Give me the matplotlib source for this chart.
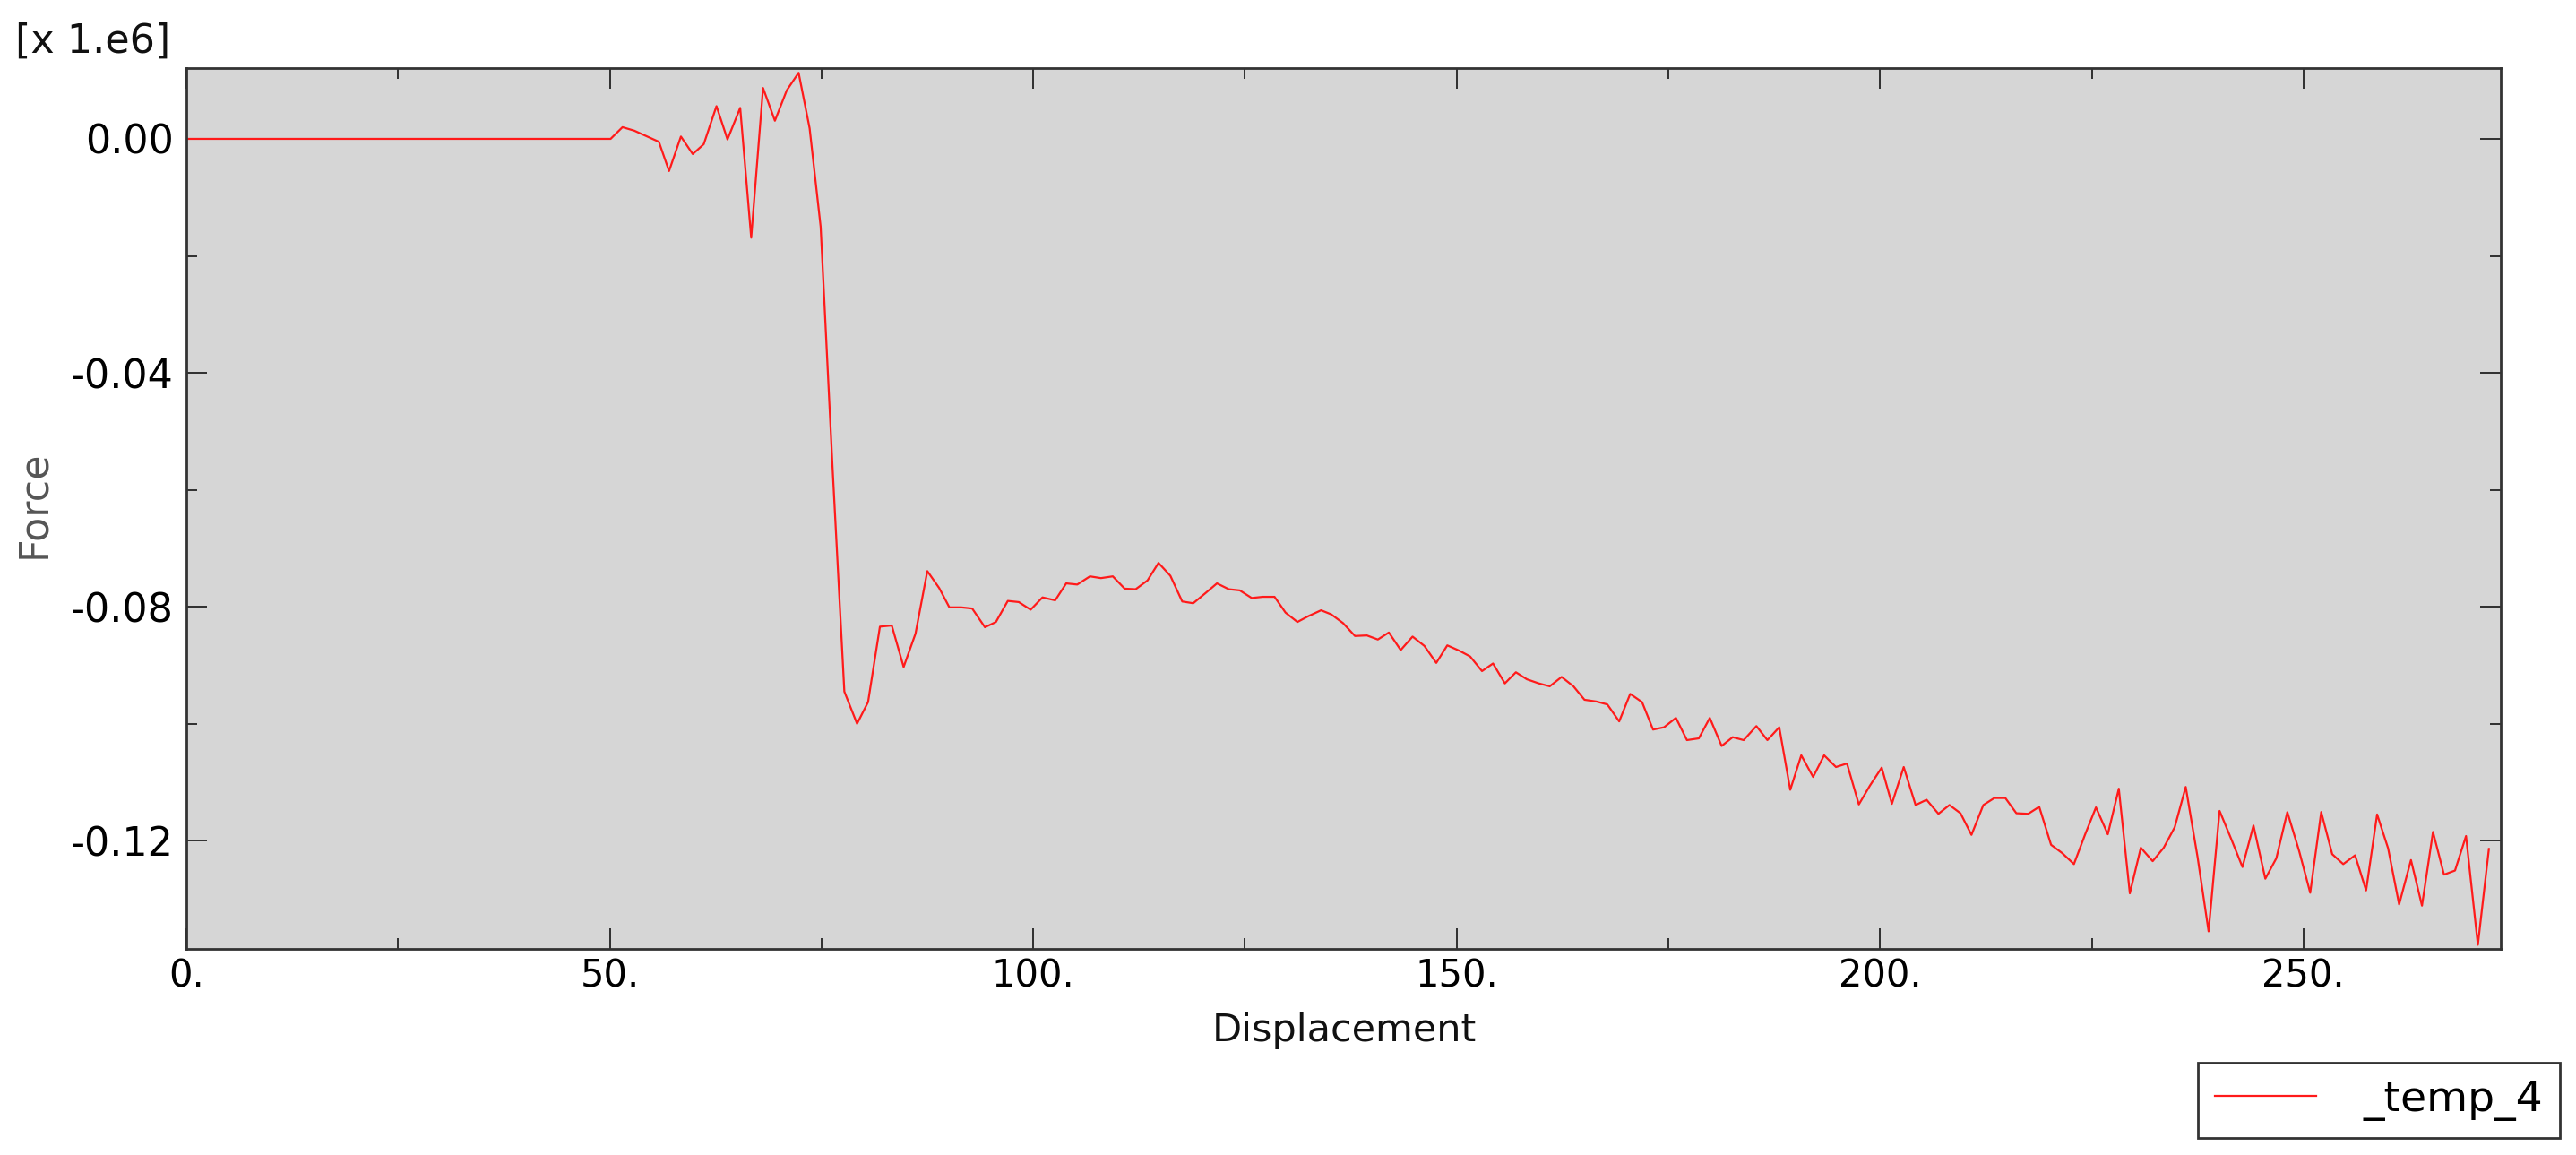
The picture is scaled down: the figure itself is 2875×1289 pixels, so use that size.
import matplotlib
matplotlib.use('agg')
from matplotlib import pyplot as plt
from matplotlib.ticker import MultipleLocator, FuncFormatter

plt.rcParams['font.family'] = ['DejaVu Sans']
plt.rcParams['axes.unicode_minus'] = False

# displacement and force (force in units of 1e6)
displacement = [0.0, 50.1, 51.5, 52.9, 55.8, 57.0, 58.4, 59.8, 61.1, 62.6,
                63.9, 65.4, 66.7, 68.1, 69.5, 70.9, 72.3, 73.6, 74.9, 76.3,
                77.7, 79.2, 80.5, 81.9, 83.3, 84.7, 86.1, 87.5, 88.9, 90.1,
                91.5, 92.8, 94.3, 95.6, 97.0, 98.3, 99.7, 101.1, 102.6, 103.9,
                105.2, 106.7, 108.0, 109.4, 110.8, 112.1, 113.5, 114.8, 116.2, 117.6,
                118.9, 120.4, 121.7, 123.1, 124.4, 125.8, 127.1, 128.5, 129.8, 131.2,
                132.5, 134.0, 135.2, 136.6, 138.0, 139.4, 140.7, 142.0, 143.4, 144.8,
                146.2, 147.6, 148.9, 150.3, 151.6, 153.0, 154.3, 155.7, 157.0, 158.3,
                159.7, 161.0, 162.4, 163.8, 165.1, 166.5, 167.8, 169.2, 170.5, 171.9,
                173.2, 174.5, 175.9, 177.2, 178.6, 179.9, 181.3, 182.6, 183.9, 185.4,
                186.7, 188.1, 189.4, 190.7, 192.1, 193.4, 194.8, 196.1, 197.5, 198.8,
                200.2, 201.4, 202.8, 204.2, 205.5, 206.9, 208.2, 209.5, 210.8, 212.2,
                213.5, 214.8, 216.1, 217.5, 218.8, 220.2, 221.5, 222.9, 224.2, 225.5,
                226.9, 228.2, 229.5, 230.8, 232.2, 233.5, 234.8, 236.1, 237.5, 238.8,
                240.1, 241.5, 242.8, 244.1, 245.5, 246.8, 248.1, 249.5, 250.8, 252.1,
                253.4, 254.7, 256.1, 257.4, 258.7, 260.0, 261.3, 262.7, 264.0, 265.3,
                266.6, 267.9, 269.2, 270.6, 271.9]

force = [0.0, 0.0, 0.0020, 0.0014, -0.0005, -0.0055, 0.0004, -0.0026, -0.0009, 0.0056,
         -0.0001, 0.0053, -0.0169, 0.0087, 0.0031, 0.0083, 0.0113, 0.0018, -0.0150, -0.0560,
         -0.0945, -0.1000, -0.0963, -0.0834, -0.0832, -0.0903, -0.0846, -0.0739, -0.0768, -0.0801,
         -0.0801, -0.0803, -0.0835, -0.0826, -0.0790, -0.0792, -0.0805, -0.0784, -0.0789, -0.0760,
         -0.0762, -0.0748, -0.0751, -0.0748, -0.0769, -0.0770, -0.0755, -0.0725, -0.0747, -0.0791,
         -0.0794, -0.0776, -0.0760, -0.0770, -0.0772, -0.0785, -0.0783, -0.0783, -0.0810, -0.0826,
         -0.0816, -0.0806, -0.0813, -0.0828, -0.0850, -0.0849, -0.0856, -0.0844, -0.0874, -0.0851,
         -0.0867, -0.0896, -0.0866, -0.0875, -0.0885, -0.0910, -0.0897, -0.0931, -0.0912, -0.0924,
         -0.0931, -0.0936, -0.0920, -0.0936, -0.0959, -0.0962, -0.0967, -0.0996, -0.0949, -0.0963,
         -0.1010, -0.1006, -0.0990, -0.1028, -0.1025, -0.0990, -0.1038, -0.1023, -0.1028, -0.1004,
         -0.1028, -0.1006, -0.1113, -0.1054, -0.1091, -0.1054, -0.1074, -0.1068, -0.1138, -0.1106,
         -0.1075, -0.1137, -0.1074, -0.1139, -0.1130, -0.1154, -0.1139, -0.1153, -0.1190, -0.1139,
         -0.1127, -0.1127, -0.1153, -0.1154, -0.1142, -0.1207, -0.1221, -0.1240, -0.1190, -0.1143,
         -0.1189, -0.1111, -0.1290, -0.1212, -0.1235, -0.1212, -0.1177, -0.1108, -0.1228, -0.1355,
         -0.1149, -0.1198, -0.1245, -0.1174, -0.1265, -0.1230, -0.1151, -0.1218, -0.1289, -0.1151,
         -0.1223, -0.1240, -0.1225, -0.1285, -0.1155, -0.1213, -0.1309, -0.1233, -0.1311, -0.1185,
         -0.1258, -0.1251, -0.1192, -0.1378, -0.1214]

series_name = '_temp_4'

W, H = 2875, 1289
fig = plt.figure(figsize=(W / 100, H / 100), dpi=100)
ax = fig.add_axes([208 / W, 1 - 1059 / H, (2791 - 208) / W, (1059 - 76) / H])
ax.set_facecolor('#d6d6d6')

line, = ax.plot(displacement, force, color='#ff1a1a', lw=1.6, label=series_name)

ax.set_xlim(0, 273.3)
ax.set_ylim(-0.1385, 0.0121)

ax.xaxis.set_major_locator(MultipleLocator(50))
ax.xaxis.set_minor_locator(MultipleLocator(25))
ax.yaxis.set_major_locator(MultipleLocator(0.04))
ax.yaxis.set_minor_locator(MultipleLocator(0.02))
ax.xaxis.set_major_formatter(FuncFormatter(lambda v, p: '%d.' % round(v)))
ax.yaxis.set_major_formatter(FuncFormatter(lambda v, p: '%.2f' % (0 if abs(v) < 1e-9 else v)))

ax.tick_params(which='both', direction='in', top=True, right=True, color='#222222', width=1.3)
ax.tick_params(which='major', length=16.5)
ax.tick_params(which='minor', length=8.5)
ax.tick_params(axis='x', which='major', labelsize=30, pad=7)
ax.tick_params(axis='y', which='major', labelsize=32, pad=10)

for s in ax.spines.values():
    s.set_color('#333333')
    s.set_linewidth(2)

fig.text(1500 / W, 1 - 1150 / H, 'Displacement', ha='center', va='center', fontsize=31, color='#111111')
fig.text(38 / W, 1 - 563 / H, 'Force', rotation=90, ha='center', va='center', fontsize=32, color='#555555')
fig.text(17 / W, 1 - 46 / H, '[x 1.e6]', ha='left', va='center', fontsize=32, color='#111111')

leg = fig.legend(handles=[line], loc='upper right', bbox_to_anchor=(2857 / W, 1 - 1186 / H),
                 fontsize=34, frameon=True, fancybox=False, framealpha=1, edgecolor='#333333',
                 handlelength=2.4, handletextpad=1.1, borderpad=0.4, borderaxespad=0)
leg.get_frame().set_linewidth(2)

fig.savefig('out.png', dpi=100, facecolor='white')
